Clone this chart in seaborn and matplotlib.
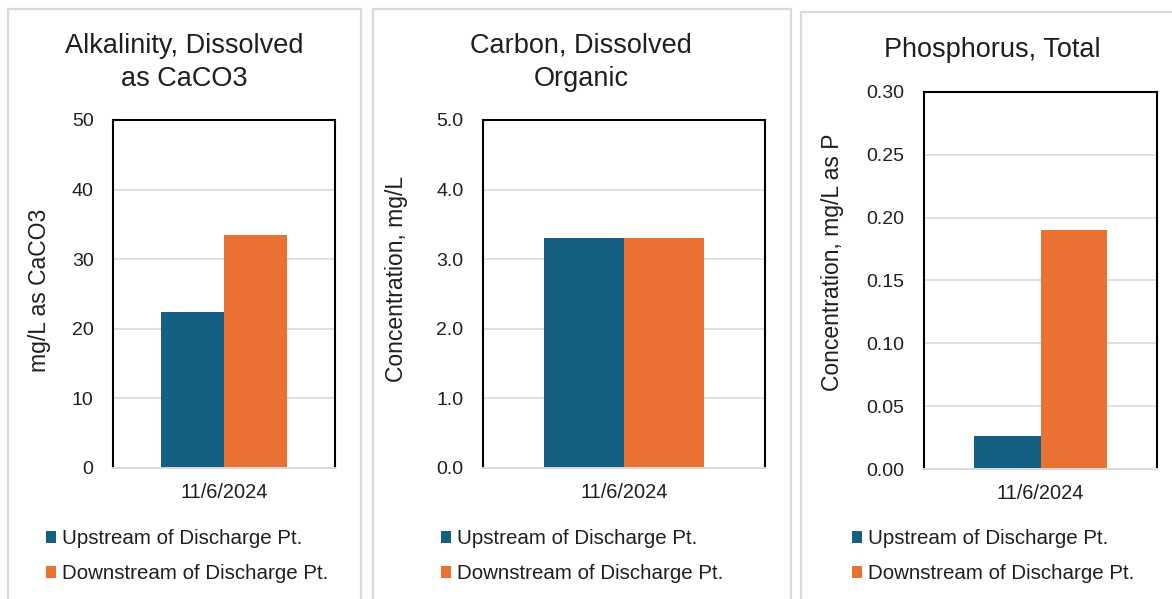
import matplotlib
matplotlib.use("Agg")
import matplotlib.pyplot as plt
from matplotlib.patches import Rectangle
from matplotlib.ticker import FormatStrFormatter, MultipleLocator
import pandas as pd
import seaborn as sns

# ---- data ----
dates = ["11/6/2024"]
sites = ["Upstream of Discharge Pt.", "Downstream of Discharge Pt."]
alkalinity = [22.4, 33.5]      # mg/L as CaCO3
carbon = [3.3, 3.3]            # mg/L
phosphorus = [0.026, 0.19]     # mg/L as P

titles = [["Alkalinity, Dissolved", "as CaCO3"],
          ["Carbon, Dissolved", "Organic"],
          ["Phosphorus, Total"]]
ylabels = ["mg/L as CaCO3", "Concentration, mg/L", "Concentration, mg/L as P"]
ylims = [(0, 50), (0, 5.0), (0, 0.30)]
ysteps = [10, 1.0, 0.05]
yfmts = ["%d", "%.1f", "%.2f"]

BLUE = "#156082"
ORANGE = "#E97132"
GRID = "#d9d9d9"
TEXT = "#1f1f1f"

sns.set_theme(style="white")
plt.rcParams["font.family"] = ["Liberation Sans", "DejaVu Sans"]
plt.rcParams["text.color"] = TEXT
plt.rcParams["xtick.color"] = TEXT
plt.rcParams["ytick.color"] = TEXT

W, H = 1172, 599
fig = plt.figure(figsize=(W / 100, H / 100), dpi=100)
fig.patch.set_facecolor("white")


def fx(x):
    return x / W


def fy(y):
    return 1 - y / H


def rect(l, t, r, b):
    return [fx(l), fy(b), (r - l) / W, (b - t) / H]


# panel frames (left, top, right, bottom in pixels)
panels = [(8, 9, 361, 640), (373, 9, 791, 640), (801, 12, 1200, 640)]
for l, t, r, b in panels:
    fig.patches.append(Rectangle((fx(l), fy(b)), (r - l) / W, (b - t) / H,
                                 transform=fig.transFigure, fill=False,
                                 edgecolor=GRID, linewidth=1.6, zorder=0))

# plot areas
axes_px = [(113, 120, 335, 468), (483, 120, 765, 468), (924, 92, 1157, 469)]
title_cx = [184, 581, 992]
title_base = [[53, 86], [53, 86], [57]]
ylabel_pos = [(40, 290), (397, 279), (832, 262)]
legend_x = [46, 441, 852]

series = [alkalinity, carbon, phosphorus]

for i, vals in enumerate(series):
    df = pd.DataFrame({"date": dates * len(sites), "site": sites, "value": vals})
    ax = fig.add_axes(rect(*axes_px[i]))
    sns.barplot(data=df, x="date", y="value", hue="site", hue_order=sites,
                palette=[BLUE, ORANGE], saturation=1, width=0.57, ax=ax,
                linewidth=0, err_kws={"linewidth": 0})
    ax.set_ylim(*ylims[i])
    ax.yaxis.set_major_locator(MultipleLocator(ysteps[i]))
    ax.yaxis.set_major_formatter(FormatStrFormatter(yfmts[i]))
    ax.set_xlabel("")
    ax.set_ylabel("")
    ax.set_axisbelow(True)
    ax.grid(axis="y", color=GRID, linewidth=1.2)
    ax.grid(axis="x", visible=False)
    for side in ("top", "left", "right"):
        ax.spines[side].set_color("black")
        ax.spines[side].set_linewidth(1.5)
        ax.spines[side].set_visible(True)
    ax.spines["bottom"].set_color(GRID)
    ax.spines["bottom"].set_linewidth(1.4)
    ax.spines["bottom"].set_visible(True)
    ax.tick_params(axis="y", length=0, pad=14, labelsize=14, labelcolor=TEXT)
    ax.tick_params(axis="x", length=0, pad=11, labelsize=14.4, labelcolor=TEXT)

    for line, yb in zip(titles[i], title_base[i]):
        fig.text(fx(title_cx[i]), fy(yb), line, ha="center", va="baseline",
                 fontsize=19.5, color=TEXT)

    lx, ly = ylabel_pos[i]
    fig.text(fx(lx), fy(ly), ylabels[i], rotation=90, ha="center",
             va="center", fontsize=16.5, color=TEXT)

    sns.move_legend(ax, "center left",
                    bbox_to_anchor=(fx(legend_x[i]), fy(556)),
                    bbox_transform=fig.transFigure, frameon=False, title=None,
                    fontsize=14.8, handlelength=0.5, handleheight=0.5,
                    handletextpad=0.3, labelspacing=0.78, borderpad=0,
                    borderaxespad=0)

fig.savefig("out.png", dpi=100, facecolor="white")
